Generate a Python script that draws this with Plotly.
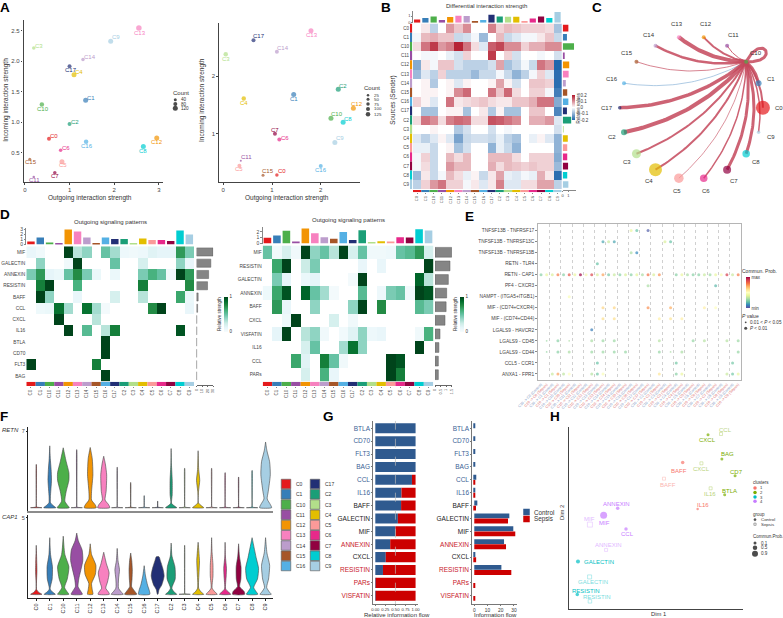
import numpy as np
import plotly.graph_objects as go

W, H = 783, 618
FONT = "Liberation Sans"
INK = "#333333"

clusters = ["C0", "C1", "C10", "C11", "C12", "C13", "C14", "C15", "C16", "C17",
            "C2", "C3", "C4", "C5", "C6", "C7", "C8", "C9"]
colors = ["#E41A1C", "#377EB8", "#4DAF4A", "#984EA3", "#F29403", "#F781BF", "#BC9DCC", "#A65628", "#54B0E4",
          "#222F75", "#1B9E77", "#B2DF8A", "#E3BE00", "#FB9A99", "#E7298A", "#910241", "#00CDD1", "#A6CEE3"]

# panel A, same cluster order as above
a1_out = [0.54, 1.36, 0.38, 0.20, 2.95, 2.55, 1.30, 0.11, 1.37, 1.00, 1.00, 0.20, 1.10, 0.83, 0.80, 0.67, 2.65, 1.92]
a1_in = [0.73, 1.36, 1.29, 0.10, 0.74, 2.55, 2.03, 0.39, 0.68, 1.92, 0.97, 2.22, 1.78, 0.35, 0.54, 0.17, 0.60, 2.33]
a1_size = [4, 5, 4.5, 2.5, 5, 5.5, 3.5, 3, 4.5, 4, 4, 3.5, 5, 5, 3.5, 3.5, 5, 5]
a1_dx = [5, 5.3, 1, 0.7, 0.7, 0.7, 7, 1.3, 1, 1, 5.7, 5, 5, 1, 5, 0.3, 0, 5]
a1_dy = [-2.3, -2.3, 4, 3, 4.3, 4.7, -2.3, 2.7, 4, 4, -2.3, -2.3, -2.7, 3.3, -2.3, 3.7, 4.7, -4.3]

a2_out = [1.10, 1.445, 2.21, 0.36, 2.67, 1.80, 1.10, 0.815, 2.00, 0.62, 2.36, 0.05, 0.42, 0.33, 1.15, 1.06, 2.46, 2.29]
a2_in = [0.285, 1.68, 1.27, 0.53, 1.44, 2.785, 2.42, 0.28, 0.44, 2.62, 1.77, 2.38, 1.61, 0.445, 0.90, 1.00, 1.20, 0.85]
a2_size = [3.5, 5, 5, 2, 5, 5, 4, 3, 4, 4, 5, 4.5, 4.5, 4, 4, 4, 5, 5]
a2_dx = [5, 0, 5.7, 5.7, 4, 0.7, 6, 5.3, 0.7, 5.7, 4.7, 0, 0, 0, 5.7, 0, 5, 4.7]
a2_dy = [-4, 4.7, -4, -4, -4.7, 4, -3.7, -4, 3.7, -4.3, -3.3, 4.7, 4, 3.3, -1.7, -4, -3.3, -4]

# panel B
b_matrix = [
    [0, .02, -.06, 0, .09, .05, .10, 0, 0, .11, .04, .06, .05, .04, .04, .04, .03, -.08],
    [-.01, .06, .07, .05, .05, -.05, -.04, -.01, -.09, 0, .06, -.05, -.03, -.01, -.01, .02, .05, -.05],
    [.03, .12, .17, .09, .11, .19, .12, .03, -.03, .14, .16, .10, .10, .04, .07, .07, .10, .10],
    [0, -.01, -.01, 0, -.02, -.04, .04, 0, 0, .17, 0, .04, -.04, 0, 0, -.01, 0, -.04],
    [-.11, .02, -.01, .05, .05, -.04, -.06, -.06, -.06, -.04, .08, -.08, -.05, -.01, -.05, .12, .09, -.20],
    [-.09, -.03, -.06, .04, -.06, -.06, -.06, -.09, -.05, -.05, -.01, -.05, -.10, -.06, -.01, .04, -.03, -.19],
    [0, .01, -.07, 0, .01, -.03, .01, 0, 0, .01, .08, .01, -.04, 0, .05, .05, .04, -.19],
    [0, .01, .01, 0, .01, .10, .13, 0, 0, .12, .05, .13, .03, 0, .04, .04, -.01, -.17],
    [.04, .01, -.03, 0, .12, .02, .03, .04, .05, .03, .02, .02, .05, .05, .07, .12, .12, -.11],
    [0, -.08, -.08, 0, .01, .01, -.08, 0, .02, -.07, .01, -.08, -.08, 0, .05, .05, 0, -.16],
    [.03, .12, .10, .03, .11, .13, .12, .03, .03, .15, .14, .12, .10, 0, .07, .07, .09, -.03],
    [0, 0, .01, 0, 0, -.07, -.04, 0, 0, -.04, 0, -.01, 0, 0, 0, 0, 0, -.04],
    [-.03, -.06, -.03, .01, -.03, -.12, -.05, -.04, -.04, -.05, -.02, -.06, -.08, 0, -.02, .01, -.03, -.10],
    [-.02, -.02, -.05, 0, .01, -.08, -.04, 0, 0, -.10, -.02, -.05, -.10, 0, 0, 0, 0, -.10],
    [-.01, .04, -.05, 0, .06, .03, .06, 0, 0, .06, .06, .06, .03, 0, .04, .04, .04, -.11],
    [-.01, .03, -.05, 0, .09, .06, .06, 0, 0, .07, .03, .06, .05, .04, .05, .04, .04, -.09],
    [-.09, .02, -.05, -.01, .06, .03, -.02, .01, -.05, .02, .08, -.02, -.03, -.01, -.02, .07, .02, -.19],
    [-.06, .04, .09, .12, .04, .04, -.01, .02, -.03, .02, .11, -.03, -.03, .03, .03, .08, .08, -.06],
]
b_top = [.5, .7, .95, .4, .85, 1.05, 1.0, .25, .4, 1.2, .95, .9, .9, .25, .65, .95, .7, 1.6]
b_right = [1.0, .75, 2.0, .35, 1.15, 1.05, .55, .8, 1.0, .75, 1.5, .1, .9, .8, .8, .95, .8, 1.0]

# panel C, edge widths and node sizes from the C10 hub
c_nodes = ["C10", "C11", "C12", "C13", "C14", "C15", "C16", "C17", "C2", "C3", "C4", "C5", "C6", "C7", "C8", "C9", "C0", "C1"]
c_edge = [0, 1.0, 2.0, 4.0, 2.5, 0.8, 0.7, 3.5, 4.0, 2.0, 2.0, 0.7, 1.5, 3.0, 3.0, 1.5, 2.0, 3.0]
c_size = [4, 4, 4, 4, 4, 4, 4, 3.5, 6, 9, 13, 9.5, 7.5, 8, 7.5, 3.5, 14, 6]

# panel D
d1_rows = ["MIF", "GALECTIN", "ANNEXIN", "RESISTIN", "BAFF", "CCL", "CXCL", "IL16", "BTLA", "CD70", "FLT3", "BAG"]
d1_matrix = [
    [.1, .05, 0, 0, 1, .3, .4, 0, .5, .35, .07, .05, .07, .15, .12, .12, .7, .45],
    [0, .4, 0, 0, .05, 1, 0, 0, 0, .5, 0, 0, .2, 0, 0, 0, .4, .1],
    [.45, .7, .12, .08, .5, .75, .45, .08, 0, .08, 0, 0, .45, .6, .5, .05, 1, .7],
    [0, .8, 1, 0, 0, .6, 0, 0, 0, 0, 0, 0, .8, 0, 0, 0, 0, .75],
    [0, 1, .4, 0, 0, .1, 0, 0, 0, .2, 0, 0, .3, 0, 0, 0, .65, .08],
    [0, .06, .08, .85, .35, 0, .85, .35, .03, 0, 0, 0, 0, .75, 1, 0, 0, .1],
    [0, 0, 0, 1, 0, 0, 0, .3, 0, 0, 0, 0, 0, 0, 0, 0, 0, 0],
    [0, 0, 0, 0, 1, 0, .55, 0, .3, .8, 0, 0, 0, 0, 0, 0, .95, 0],
    [0, 0, 0, 0, 0, 0, 0, 0, 1, 0, 0, 0, 0, 0, 0, 0, 0, 0],
    [0, 0, 0, 0, 0, 0, 0, 0, 1, 0, 0, 0, 0, 0, 0, 0, 0, 0],
    [1, 0, 0, 0, 0, 0, 0, .8, 0, 0, 0, 0, 0, 0, 0, 0, 0, 0],
    [0, 0, 0, 0, 0, 0, 0, 0, 1, 0, 0, 0, 0, 0, 0, 0, 0, 0],
]
d1_top = [.6, 1.4, .4, .25, 3.0, 2.6, 1.4, .15, 1.4, 1.1, 1.1, .2, 1.2, .9, .9, .7, 2.8, 2.0]
d1_right = [30, 26, 22, 20, 3, 2, .5, .5, .3, .3, .3, .3]

d2_rows = ["MIF", "RESISTIN", "GALECTIN", "ANNEXIN", "BAFF", "CXCL", "VISFATIN", "IL16", "CCL", "PARs"]
d2_matrix = [
    [.5, .05, .2, .05, 1, .4, .5, .3, 1, .2, .5, .05, .05, .07, .5, .55, .7, .2],
    [0, .65, 1, 0, .25, .45, 0, 0, 0, 0, .1, 0, .1, 0, 0, 0, 0, 1],
    [0, .45, .12, 0, .08, .12, 0, 0, 0, .03, 1, 0, 0, 0, 0, 0, .9, .3],
    [.06, .65, .95, 0, .9, .5, .35, .03, 0, 0, .55, 0, .07, .45, .5, .05, 1, .95],
    [0, .7, .1, 0, 0, .4, 0, 0, 0, .4, 1, 0, .75, 0, 0, 0, .55, .45],
    [0, 0, .06, 1, 0, 0, 0, .2, 0, .05, 0, 0, 0, 0, 0, 0, 0, 0],
    [0, .12, 1, 0, .3, .4, .05, 0, .04, .15, .4, .07, .1, 0, 0, 0, .05, .6],
    [0, 0, 0, 0, .2, .5, 0, 0, .35, .85, .4, 0, 0, 0, 0, 0, 1, 0],
    [0, 0, 0, .65, .15, 0, .8, .5, .05, 0, 0, 0, 0, 1, .95, 0, 0, 0],
    [0, 0, 0, 0, .2, 0, .6, .1, 0, 0, 0, 0, 0, 1, .8, 0, 0, 0],
]
d2_top = [1.0, 1.4, 2.2, .35, 2.6, 1.75, 1.1, .8, 2.0, .6, 2.3, .1, .4, .35, 1.1, 1.05, 2.45, 2.25]
d2_right = [1.5, 1.35, 1.2, 1.05, 1.0, .9, .45, .35, .3, .3]

# panel E
e_pairs = ["TNFSF13B - TNFRSF17", "TNFSF13B - TNFRSF13C", "TNFSF13B - TNFRSF13B", "RETN - TLR4", "RETN - CAP1",
           "PF4 - CXCR3", "NAMPT - (ITGA5+ITGB1)", "MIF - (CD74+CXCR4)", "MIF - (CD74+CD44)", "LGALS9 - HAVCR2",
           "LGALS9 - CD45", "LGALS9 - CD44", "CCL5 - CCR1", "ANXA1 - FPR1"]
e_cols = [
    [16, 17, 19],
    [11, 12, 13, 22, 23],
    [16, 17],
    [10],
    [0, 1, 2, 3, 4, 5, 6, 7, 8, 9, 10, 11, 12, 13, 14, 15, 16, 17, 18, 19, 20, 21,
     24, 25, 26, 27, 28, 29, 30, 31, 32, 33, 34, 35],
    [19, 31],
    [5],
    [11, 13, 19, 23, 29, 31],
    [11, 13, 21, 23, 25],
    [9],
    [1, 3, 5, 9, 11, 13, 21, 27, 29, 33, 35],
    [1, 3, 5, 9, 11, 13, 15, 21, 23, 25, 35],
    [10, 24, 34],
    [2, 3, 4, 5, 9, 10, 11, 21, 24, 25, 33, 34, 35],
]
e_vals = [
    [.42, .2, .03],
    [.15, .35, .15, .38, .2],
    [.3, .1],
    [.2],
    [.25, .42, .38, .78, .25, .85, .42, 1.0, .45, .88, .38, .72, .22, .35, .25, .38, .25, .4, .3, .8, .38, .75,
     .25, .42, .3, .25, .25, .35, .28, .42, .48, .9, .35, .78],
    [.3, .18],
    [.48],
    [.62, .62, .75, .7, .55, .5],
    [.6, .6, .55, .58, .55],
    [.08],
    [.28, .25, .3, .3, .28, .28, .32, .27, .32, .32, .28],
    [.27, .25, .3, .28, .28, .27, .27, .27, .3, .3, .27],
    [.2, .22, .22],
    [.35, .72, .33, .5, .32, .22, .48, .58, .25, .42, .35, .22, .42],
]
# pvalue class: 1 is the small dot (0.01 < P < 0.05)
e_small = [[], [], [], [], [], [], [], [], [], [], [1, 5], [1, 23], [], []]

# panel F, violin outlines: heights and half widths
retn_h = [
    [0, .06, .15, 3.95], [0, .2, .45, 1, 2.5, 3.5, 4.5, 5.65], [0, .25, .6, 1.5, 2.5, 3.2, 4.2, 5.47],
    [0, .05, .15, 5.3], [0, .3, .7, 1.5, 3.0, 4.5, 5.5], [0, .3, .7, 1.5, 3, 4, 4.7],
    [0, .05, .15, 3.7], [0, .05, .15, 2.3], [0, .05, .15, 1.1], [0, .05, .15, .6],
    [0, .2, .4, 1.2, 2.5, 4, 5.4], [0, .05, .15, 3.6], [0, .2, .45, 1.5, 2.5, 3.5, 5.2],
    [0, .05, .15, 3.6], [0, .05, .15, 3.2], [0, .05, .15, 2.8], [0, .05, .15, 3.4],
    [0, .3, .8, 1.5, 3.0, 4.2, 5.2, 6.0],
]
retn_w = [
    [.42, .03, .012, .006], [.45, .25, .06, .05, .13, .1, .04, 0], [.45, .3, .12, .22, .42, .42, .22, 0],
    [.42, .03, .012, .006], [.45, .35, .1, .1, .2, .15, 0], [.45, .35, .1, .18, .22, .12, 0],
    [.42, .03, .012, .006], [.42, .03, .012, .006], [.42, .03, .012, .006], [.42, .03, .012, .006],
    [.42, .2, .03, .08, .08, .02, 0], [.42, .03, .012, .006], [.42, .22, .02, .03, .12, .04, 0],
    [.42, .03, .012, .006], [.42, .03, .012, .006], [.42, .03, .012, .006], [.42, .03, .012, .006],
    [.45, .35, .12, .2, .35, .3, .1, 0],
]
cap1_h = [
    [0, .12, .3, 1.5, 2.0, 3.2], [0, .15, .35, 1, 1.8, 2.6, 3.7], [0, .15, .45, 1, 1.8, 2.6, 3.8],
    [0, .2, .5, 1, 2.2, 2.9, 3.5, 4.0], [0, .3, .7, 1.3, 1.9, 2.6, 3.3], [0, .15, .4, .8, 1.4, 2.0, 2.75],
    [0, .15, .4, 1, 1.6, 2.2, 3.0], [0, .2, .5, 1, 1.6, 2.2, 2.7], [0, .25, .6, 1.2, 1.87],
    [0, .3, .6, 1.2, 1.7, 2.2, 2.45], [0, .15, .4, 1, 1.8, 2.5, 3.35], [0, .04, .1, 3.2],
    [0, .15, .4, 1.5, 2.2, 3.4], [0, .15, .4, 1.2, 1.9, 2.8, 3.7], [0, .15, .35, 1.2, 1.7, 2.5, 3.4],
    [0, .2, .5, 1, 1.8, 2.5, 3.3], [0, .2, .45, 1, 1.7, 2.4, 3.7], [0, .15, .45, 1, 1.9, 2.7, 3.7],
]
cap1_w = [
    [.42, .2, .03, .05, .04, 0], [.42, .2, .03, .18, .2, .06, 0], [.42, .3, .1, .3, .42, .12, 0],
    [.42, .3, .1, .15, .45, .4, .12, 0], [.2, .15, .1, .38, .42, .1, 0], [.42, .35, .15, .28, .4, .2, 0],
    [.45, .3, .1, .1, .17, .06, 0], [.45, .3, .07, .1, .12, .08, 0], [.42, .38, .25, .1, 0],
    [.02, .1, .3, .48, .38, .2, .1], [.42, .22, .05, .3, .28, .06, 0], [.42, .02, .01, .003],
    [.42, .22, .04, .07, .1, 0], [.42, .25, .04, .1, .1, .03, 0], [.42, .25, .04, .08, .1, .02, 0],
    [.45, .4, .08, .17, .18, .06, 0], [.42, .28, .12, .4, .48, .3, 0], [.42, .28, .08, .22, .3, .1, 0],
]

# panel G
g_paths = ["BTLA", "CD70", "FLT3", "BAG", "CCL", "IL16", "BAFF", "GALECTIN", "MIF", "ANNEXIN", "CXCL", "RESISTIN", "PARs", "VISFATIN"]
g_label_colors = ["#3B5F96"] * 6 + ["#222222"] * 3 + ["#C8202A", "#222222", "#C8202A", "#C8202A", "#C8202A"]
g_share = [1, 1, 1, 1, .91, .65, .64, .56, .5, .37, .26, .19, .01, .01]
g_control = [.3, .3, .3, .3, 1.5, .7, 2.3, 26.5, 29.5, 22.5, .8, 20.5, 0, 0]
g_sepsis = [0, 0, 0, 0, .15, .4, 1.3, 25.5, 31, 24, 1.4, 28, .5, .7]

# panel H
h_control_names = ["CXCL", "BAG", "CD7", "BTLA", "BAFF", "IL16", "ANNEXIN", "MIF", "CCL", "GALECTIN", "RESISTIN"]
h_control_x = [80, 88, 95.6, 89.6, 65.4, 74, 27.9, 19.8, 32.7, 5, 4.6]
h_control_y = [95.6, 82.3, 73.1, 62.7, 80.3, 54.8, 55.2, 51.4, 43.9, 26, 7.9]
h_control_cluster = [2, 2, 2, 2, 1, 1, 4, 4, 4, 3, 3]
h_control_size = [3, 3, 3, 3, 3.5, 2.5, 3.5, 7, 3.5, 4, 3.5]
h_control_dx = [-1, 5.7, 1.3, 5.3, -3.3, 5.3, -.7, 1.3, 1, 21, 8.7]
h_control_dy = [5.3, -4.7, -4, -4, 8, -3.7, -4.7, 8, 5, 0, -4]
h_sepsis_names = ["CCL", "CXCL", "BAFF", "IL16", "MIF", "ANNEXIN", "GALECTIN", "RESISTIN"]
h_sepsis_x = [87.5, 76.2, 54.6, 81.5, 11.9, 21.2, 11.7, 11.9]
h_sepsis_y = [96, 79.9, 71.5, 66.2, 46.3, 32.4, 17.6, 4.2]
h_sepsis_cluster = [2, 2, 1, 2, 4, 4, 3, 3]
h_sepsis_size = [3, 3, 3, 3, 5, 3, 4, 3.5]
h_sepsis_dx = [4.7, 0, 4.3, -1, 0, 2, 3.7, 7.3]
h_sepsis_dy = [-3.7, 6, 6, 6, -6, -5, 4.7, -4.3]
h_colors = {1: "#F8766D", 2: "#7CAE00", 3: "#00BFC4", 4: "#C77CFF"}

fig = go.Figure()
axis_layout = {}
notes = []
n_axes = 1


def new_axes(box, xrange, yrange, xopts=None, yopts=None):
    # box is x0, x1, y0, y1 in page pixels, y going down
    global n_axes
    n_axes += 1
    base = dict(showgrid=False, zeroline=False, showticklabels=False, ticks="", showline=False)
    x0, x1, y0, y1 = box
    axis_layout[f"xaxis{n_axes}"] = dict(base, domain=[x0 / W, x1 / W], range=xrange, anchor=f"y{n_axes}", **(xopts or {}))
    axis_layout[f"yaxis{n_axes}"] = dict(base, domain=[1 - y1 / H, 1 - y0 / H], range=yrange, anchor=f"x{n_axes}", **(yopts or {}))
    return dict(xaxis=f"x{n_axes}", yaxis=f"y{n_axes}")


def text(x, y, s, size=6, color=INK, anchor="center", angle=0, weight=None):
    notes.append(dict(x=x / W, y=1 - y / H, xref="paper", yref="paper", text=s, showarrow=False, textangle=angle,
                      xanchor=anchor, yanchor="middle", borderpad=0,
                      font=dict(size=size, color=color, family=FONT, weight=weight)))


def ticks_font(size, color=INK):
    return dict(size=size, color=color, family=FONT)


def scatter_panel(box, xr, yr, xs, ys, sizes, dxs, dys, xticks, yticks, yfmt):
    line = dict(showline=True, linecolor="#444444", linewidth=1.2, showticklabels=True, ticks="outside", ticklen=1.5,
                tickcolor="#444444", tickfont=ticks_font(6, "#444444"))
    ax = new_axes(box, xr, yr, dict(line, tickvals=xticks), dict(line, tickvals=yticks, tickformat=yfmt))
    fig.add_trace(go.Scatter(x=xs, y=ys, mode="markers", marker=dict(size=sizes, color=colors, line_width=0), **ax))
    for name, c, x, y, dx, dy in zip(clusters, colors, xs, ys, dxs, dys):
        notes.append(dict(x=x, y=y, xref=ax["xaxis"], yref=ax["yaxis"], text=name, showarrow=False, xshift=dx, yshift=-dy,
                          font=dict(size=6, color=c, family=FONT)))


def strip(box, vertical=False, labels=False):
    if vertical:
        ax = new_axes(box, [0, 1], [17.5, -.5])
        fig.add_trace(go.Bar(x=[1] * 18, y=list(range(18)), orientation="h", width=1, marker=dict(color=colors, line_width=0), **ax))
    else:
        xopts = {}
        if labels:
            xopts = dict(showticklabels=True, tickvals=list(range(18)), ticktext=clusters, tickangle=-90, ticks="outside",
                         ticklen=1, tickcolor="#888888", tickfont=ticks_font(labels, "#555555"))
        ax = new_axes(box, [-.5, 17.5], [0, 1], xopts)
        fig.add_trace(go.Bar(x=list(range(18)), y=[1] * 18, width=1, marker=dict(color=colors, line_width=0), **ax))


def pattern_panel(left, right, top, rows, matrix, top_vals, top_box, top_range, top_ticks, right_vals, right_box, right_range, right_ticks, cbar_x):
    n = len(rows)
    ax = new_axes((left, right, top, 381.5), [-.5, 17.5], [n - .5, -.5], None,
                  dict(showticklabels=True, tickvals=list(range(n)), ticktext=rows, tickfont=ticks_font(4.8, "#444444")))
    z = [[v if v > 0 else None for v in row] for row in matrix]
    fig.add_trace(go.Heatmap(z=z, x=list(range(18)), y=list(range(n)), colorscale="BuGn", zmin=0, zmax=1, hoverongaps=False,
                             colorbar=dict(x=cbar_x / W, y=1 - 296.7 / H, xanchor="left", yanchor="top", len=34.5, lenmode="pixels",
                                           thickness=3.5, thicknessmode="pixels", xpad=0, ypad=0, outlinewidth=0,
                                           tickvals=[0, 1], ticks="", tickfont=ticks_font(4.5)), **ax))
    strip((left, right, 381.8, 386), labels=4.5)
    ax = new_axes((left, right, top_box[0], top_box[1]), [-.5, 17.5], top_range, None,
                  dict(showline=True, linecolor="#888888", linewidth=.6, showticklabels=True, tickvals=top_ticks, ticks="outside", ticklen=1.5,
                       tickcolor="#888888", tickfont=ticks_font(5, "#444444")))
    fig.add_trace(go.Bar(x=list(range(18)), y=top_vals, width=.8, marker=dict(color=colors, line_width=0), **ax))
    ax = new_axes((right_box[0], right_box[1], top, 385), right_range, [n - .5 + (385 - 381.5) / ((381.5 - top) / n), -.5],
                  dict(showline=True, linecolor="#666666", linewidth=.6, showticklabels=True, tickvals=right_ticks, ticks="outside", ticklen=1.5,
                       tickcolor="#666666", tickangle=-90, tickfont=ticks_font(4, "#555555")))
    fig.add_trace(go.Bar(x=right_vals, y=list(range(n)), orientation="h", width=.72,
                         marker=dict(color="#858585", line=dict(color="#5a5a5a", width=.5)), **ax))


# A
scatter_panel((23.5, 163, 20, 182), [-.03, 3.09], [.018, 2.68], a1_out, a1_in, a1_size, a1_dx, a1_dy, [0, 1, 2, 3], [.5, 1, 1.5, 2, 2.5], ".1f")
scatter_panel((219, 360, 23, 182), [-.088, 2.806], [.163, 2.92], a2_out, a2_in, a2_size, a2_dx, a2_dy, [0, 1, 2], [1, 2], "d")
text(90, 197.5, "Outgoing interaction strength", 6.5)
text(287, 197.5, "Outgoing interaction strength", 6.5)
text(5.7, 100, "Incoming interaction strength", 6.5, angle=-90)
text(202, 100, "Incoming interaction strength", 6.5, angle=-90)

# B
ax = new_axes((413, 561.7, 23.5, 189), [-.5, 17.5], [17.5, -.5], None,
              dict(showticklabels=True, tickvals=list(range(18)), ticktext=clusters, tickfont=ticks_font(4.5, "#444444"), ticklabelstandoff=3))
fig.add_trace(go.Heatmap(z=b_matrix, x=list(range(18)), y=list(range(18)), zmin=-.2, zmax=.2,
                         colorscale=[[0, "#2166AC"], [.5, "#FFFFFF"], [1, "#B2182B"]],
                         colorbar=dict(x=572 / W, y=1 - 95 / H, xanchor="left", yanchor="top", len=25, lenmode="pixels", thickness=2.5,
                                       thicknessmode="pixels", xpad=0, ypad=0, outlinewidth=0, tickvals=[-.2, -.1, 0, .1, .2],
                                       ticktext=["-0.2", "-0.1", "0", "0.1", "0.2"], ticks="outside", ticklen=5, tickcolor="rgba(0,0,0,0)",
                                       tickfont=ticks_font(4.5)), **ax))
strip((410, 412.3, 23.5, 189), vertical=True)
strip((413, 561.7, 190, 192.3), labels=4.2)
ax = new_axes((413, 561.7, 11, 22.7), [-.5, 17.5], [0, 1.77], None,
              dict(showticklabels=True, tickvals=[0, 1], ticks="outside", ticklen=1, tickcolor="#888888", showline=True, linecolor="#888888",
                   linewidth=.5, tickfont=ticks_font(4, "#444444")))
fig.add_trace(go.Bar(x=list(range(18)), y=b_top, width=.75, marker=dict(color=colors, line_width=0), **ax))
ax = new_axes((562.7, 576, 23.5, 190), [0, 2.35], [17.6, -.5],
              dict(showticklabels=True, tickvals=[0, 1], ticks="outside", ticklen=1, tickcolor="#888888", showline=True, linecolor="#888888",
                   linewidth=.5, tickfont=ticks_font(4, "#444444")))
fig.add_trace(go.Bar(x=b_right, y=list(range(18)), orientation="h", width=.72, marker=dict(color=colors, line_width=0), **ax))
text(487, 6.3, "Differential interaction strength", 6)
text(392.7, 100, "Sources (Sender)", 6.3, angle=-90)
text(577.5, 108, "Relative values", 4.5, angle=-90)

# C
c_cx, c_cy, c_r = 691.3, 107.7, 71.6
ax = new_axes((600, 783, 8, 195), [(600 - c_cx) / c_r, (783 - c_cx) / c_r], [(c_cy - 195) / c_r, (c_cy - 8) / c_r])
c_angle = np.radians(40 + 20 * np.arange(18))
c_x, c_y = np.cos(c_angle), np.sin(c_angle)
for i in range(1, 18):
    dx, dy = c_x[i] - c_x[0], c_y[i] - c_y[0]
    mx, my = (c_x[i] + c_x[0]) / 2 - .17 * dy, (c_y[i] + c_y[0]) / 2 + .17 * dx
    t = np.linspace(0, 1, 40)
    fig.add_trace(go.Scatter(x=(1 - t) ** 2 * c_x[0] + 2 * t * (1 - t) * mx + t ** 2 * c_x[i],
                             y=(1 - t) ** 2 * c_y[0] + 2 * t * (1 - t) * my + t ** 2 * c_y[i], mode="lines",
                             line=dict(color="#8DB5D8" if c_nodes[i] == "C16" else "rgba(196,72,92,0.85)", width=c_edge[i]), **ax))
t = np.linspace(0, 1, 40)
p1, p2 = (1.0, 1.08), (1.26, .62)
fig.add_trace(go.Scatter(x=(1 - t) ** 3 * c_x[0] + 3 * t * (1 - t) ** 2 * p1[0] + 3 * t ** 2 * (1 - t) * p2[0] + t ** 3 * c_x[0],
                         y=(1 - t) ** 3 * c_y[0] + 3 * t * (1 - t) ** 2 * p1[1] + 3 * t ** 2 * (1 - t) * p2[1] + t ** 3 * c_y[0],
                         mode="lines", line=dict(color="rgba(196,72,92,0.85)", width=3), **ax))
node_colors = [colors[clusters.index(c)] for c in c_nodes]
fig.add_trace(go.Scatter(x=c_x, y=c_y, mode="markers", marker=dict(size=c_size, color=node_colors, line_width=0), **ax))
for name, x, y in zip(c_nodes, c_x, c_y):
    r = 1.22 if name == "C0" else 1.18
    notes.append(dict(x=x * r, y=y * r, xref=ax["xaxis"], yref=ax["yaxis"], text=name, showarrow=False,
                      font=dict(size=6, color=INK, family=FONT)))

# D
pattern_panel(26.3, 194, 246.3, d1_rows, d1_matrix, d1_top, (228, 244.5), [0, 3.3], [0, 1, 2, 3], d1_right, (196.5, 213.3), [0, 30.5], [0, 10, 20, 30], 224)
pattern_panel(262.7, 433.3, 245.5, d2_rows, d2_matrix, d2_top, (227, 243.5), [0, 2.85], [0, 1, 2], d2_right, (435, 452), [0, 1.53], [0, .5, 1, 1.5], 460)
text(110.5, 221.5, "Outgoing signaling patterns", 6)
text(348, 220.5, "Outgoing signaling patterns", 6)
text(219, 314, "Relative strength", 4.5, angle=-90)
text(455, 314, "Relative strength", 4.5, angle=-90)

# E
e_ticks = [f'<span style="color:{"#7F98C4" if i % 2 == 0 else "#DC6A6A"}">C10 -&gt; {c} ({"Control" if i % 2 == 0 else "Sepsis"})</span>'
           for c in clusters for i in range(2)]
ax = new_axes((537.7, 741, 224, 380), [-.59, 35.5], [13.55, -.6],
              dict(showticklabels=True, tickvals=list(range(36)), ticktext=e_ticks, tickangle=-45, tickfont=ticks_font(3.7),
                   minor=dict(tickvals=[1.5 + 2 * i for i in range(17)], showgrid=True, griddash="dot", gridcolor="#d0d0d0", gridwidth=.6),
                   showline=True, mirror=True, linecolor="#b5b5b5", linewidth=1),
              dict(showticklabels=True, tickvals=list(range(14)), ticktext=e_pairs, tickfont=ticks_font(4.8, "#444444"), ticks="outside", ticklen=1.5,
                   tickcolor="#888888", showline=True, mirror=True, linecolor="#b5b5b5", linewidth=1))
for row, (cols, vals, small) in enumerate(zip(e_cols, e_vals, e_small)):
    sizes = [1.8 if c in small else 3 for c in cols]
    fig.add_trace(go.Scatter(x=cols, y=[row] * len(cols), mode="markers",
                             marker=dict(size=sizes, color=vals, cmin=0, cmax=1, colorscale="Spectral_r", line_width=0,
                                         showscale=row == 0,
                                         colorbar=dict(x=745.7 / W, y=1 - 277 / H, xanchor="left", yanchor="top", len=30.5, lenmode="pixels",
                                                       thickness=3.5, thicknessmode="pixels", xpad=0, ypad=0, outlinewidth=0, tickvals=[0, 1],
                                                       ticktext=["min", "max"], ticks="", tickfont=ticks_font(4.5))), **ax))
text(741, 271, "Commun. Prob.", 5, anchor="left")
text(741, 316, "<i>P</i> value", 5, anchor="left")
text(749, 322.3, "0.01 &lt; <i>P</i> &lt; 0.05", 4.6, anchor="left")
text(749, 328.3, "<i>P</i> &lt; 0.01", 4.6, anchor="left")

# F
def violin_panel(box, yr, tick, heights, widths, xopts):
    ax = new_axes(box, [-.59, 17.55], yr, xopts,
                  dict(showline=True, linecolor="#222222", linewidth=1, showticklabels=True, tickvals=[tick], ticks="outside", ticklen=1.5,
                       tickcolor="#222222", tickfont=ticks_font(5.5, "#444444")))
    for i, (hs, ws) in enumerate(zip(heights, widths)):
        hs, ws = np.array(hs), np.array(ws)
        fig.add_trace(go.Scatter(x=np.r_[i - ws, (i + ws)[::-1], i - ws[0]], y=np.r_[hs, hs[::-1], hs[0]], mode="lines", fill="toself",
                                 fillcolor=colors[i], line=dict(color="#444444", width=.6, shape="spline", smoothing=.6), **ax))


violin_panel((28.3, 273, 427.3, 511), [(507.7 - 511) / 10.95, (507.7 - 427.3) / 10.95], 7, retn_h, retn_w,
             dict(showline=True, linecolor="#8c8c8c", linewidth=1.6))
violin_panel((28.3, 273, 515, 598.3), [(594.3 - 598.3) / 15.3, (594.3 - 515) / 15.3], 5, cap1_h, cap1_w,
             dict(showline=True, linecolor="#222222", linewidth=1, showticklabels=True, tickvals=list(range(18)), ticktext=clusters, tickangle=-90,
                  ticks="outside", ticklen=2, tickcolor="#222222", tickfont=ticks_font(5.5, "#333333")))
text(1, 429.5, "<i>RETN</i>", 6, anchor="left")
text(1, 516.7, "<i>CAP1</i>", 6, anchor="left")

# G
g_row_ticks = [f'<span style="color:{c}">{p}</span>' for p, c in zip(g_paths, g_label_colors)]
g_y = list(range(14))
g_line = dict(showline=True, linecolor="#777777", linewidth=1, showticklabels=True, ticks="outside", ticklen=1, tickcolor="#777777",
              tickfont=ticks_font(4.8, "#333333"))
g_yaxis = dict(g_line, tickvals=g_y, ticktext=g_row_ticks, tickfont=ticks_font(6.5))
ax = new_axes((373.3, 418, 420.7, 604), [-.05, 1.06], [13.64, -.59],
              dict(g_line, tickvals=[0, .25, .5, .75, 1], tickformat=".2f", tickangle=0, tickfont=ticks_font(4.2, "#333333")), g_yaxis)
fig.add_trace(go.Bar(x=g_share, y=g_y, orientation="h", width=.78, marker=dict(color="#2F5A8F", line_width=0), **ax))
fig.add_trace(go.Bar(x=[1 - s for s in g_share], y=g_y, base=g_share, orientation="h", width=.78, marker=dict(color="#CC0000", line_width=0), **ax))
fig.add_trace(go.Scatter(x=[.5, .5], y=[-.59, 13.64], mode="lines", line=dict(color="#b9b9b9", width=.7, dash="dash"), **ax))
ax = new_axes((472.3, 517, 420.7, 604), [-1.5, 32.3], [13.64, -.59], dict(g_line, tickvals=[0, 10, 20, 30], tickangle=0), g_yaxis)
fig.add_trace(go.Bar(x=g_control, y=g_y, orientation="h", width=.38, offset=-.39, marker=dict(color="#2F5A8F", line_width=0), **ax))
fig.add_trace(go.Bar(x=g_sepsis, y=g_y, orientation="h", width=.38, offset=.01, marker=dict(color="#CC0000", line_width=0), **ax))
text(396.7, 614.8, "Relative information flow", 6)
text(495, 614.8, "Information flow", 6)
text(533, 512, "Control", 6.3, anchor="left")
text(533, 519, "Sepsis", 6.3, anchor="left")

# H
ax = new_axes((569.3, 742.7, 426.7, 609), [0, 100], [0, 100],
              dict(showline=True, linecolor="#444444", linewidth=1), dict(showline=True, linecolor="#444444", linewidth=1))
fig.add_trace(go.Scatter(x=h_sepsis_x, y=h_sepsis_y, mode="markers", opacity=.55,
                         marker=dict(symbol="square-open", size=h_sepsis_size, color=[h_colors[c] for c in h_sepsis_cluster], line_width=.7), **ax))
fig.add_trace(go.Scatter(x=h_control_x, y=h_control_y, mode="markers",
                         marker=dict(size=h_control_size, color=[h_colors[c] for c in h_control_cluster], line_width=0), **ax))
for names, xs, ys, cl, dxs, dys, alpha in [(h_control_names, h_control_x, h_control_y, h_control_cluster, h_control_dx, h_control_dy, 1),
                                           (h_sepsis_names, h_sepsis_x, h_sepsis_y, h_sepsis_cluster, h_sepsis_dx, h_sepsis_dy, .55)]:
    for name, x, y, c, dx, dy in zip(names, xs, ys, cl, dxs, dys):
        notes.append(dict(x=x, y=y, xref=ax["xaxis"], yref=ax["yaxis"], text=name, showarrow=False, xshift=dx, yshift=-dy, opacity=alpha,
                          font=dict(size=6, color=h_colors[c], family=FONT)))
text(658.7, 614, "Dim 1", 5.8)
text(562, 513, "Dim 2", 5.8, angle=-90)

# legends and other keys, on one axis that covers the whole page
page = new_axes((0, W, 0, H), [0, W], [H, 0])
fig.add_trace(go.Scatter(x=[175.3] * 3, y=[99.7, 104, 108.3], mode="markers", marker=dict(size=[3, 4, 5], color="black", line_width=0), **page))
fig.add_trace(go.Scatter(x=[368] * 5, y=[95.3, 99.3, 104, 109, 114.3], mode="markers", marker=dict(size=[2.5, 3, 3.5, 4, 4.5], color="black", line_width=0), **page))
text(172, 93, "Count", 6, anchor="left")
for y, s in zip([99.7, 104, 108.3], ["40", "80", "120"]):
    text(180, y, s, 4.6, anchor="left")
text(363, 88, "Count", 6, anchor="left")
for y, s in zip([95.3, 99.3, 104, 109, 114.3], ["25", "50", "75", "100", "125"]):
    text(373, y, s, 4.4, anchor="left")

# F legend swatches, two columns of nine
swatch_y = [484 + 10.25 * i for i in range(9)]
fig.add_trace(go.Scatter(x=[286] * 9, y=swatch_y, mode="markers", marker=dict(symbol="square", size=9.5, color=colors[:9], line=dict(color="#666666", width=.7)), **page))
fig.add_trace(go.Scatter(x=[315] * 9, y=swatch_y, mode="markers", marker=dict(symbol="square", size=9.5, color=colors[9:], line=dict(color="#666666", width=.7)), **page))
for i, y in enumerate(swatch_y):
    text(294.5, y, clusters[i], 5, anchor="left")
    text(324, y, clusters[i + 9], 5, anchor="left")

# G legend
fig.add_trace(go.Scatter(x=[526.5, 526.5], y=[512, 519], mode="markers", marker=dict(symbol="square", size=6.5, color=["#2F5A8F", "#CC0000"], line_width=0), **page))

# E legend dots
fig.add_trace(go.Scatter(x=[745.7, 745.7], y=[322.3, 328.3], mode="markers", marker=dict(size=[1.8, 3], color="black", line_width=0), **page))

# H legend
text(751.7, 482.7, "clusters", 4.5, anchor="left")
fig.add_trace(go.Scatter(x=[755] * 4, y=[488, 492.5, 497, 501.3], mode="markers", marker=dict(size=3.5, color=list(h_colors.values()), line_width=0), **page))
for y, s in zip([488, 492.5, 497, 501.3], ["1", "2", "3", "4"]):
    text(758.5, y, s, 4.2, anchor="left")
text(751.7, 514, "group", 4.5, anchor="left")
fig.add_trace(go.Scatter(x=[755, 755], y=[519.7, 524.2], mode="markers", marker=dict(symbol=["circle", "square-open"], size=2.2, color="#555555", line_width=.5), **page))
text(760, 519.7, "Control", 4.4, anchor="left")
text(760, 524.2, "Sepsis", 4.4, anchor="left")
text(751.7, 536.7, "Commun.Prob.", 4.5, anchor="left")
fig.add_trace(go.Scatter(x=[755] * 3, y=[543, 547.7, 553.7], mode="markers", marker=dict(size=[3, 4.5, 6], color="black", line_width=0), **page))
for y, s in zip([543, 547.7, 553.7], ["0.1", "0.5", "0.9"]):
    text(760, y, s, 4.6, anchor="left")

for letter, x, y in [("A", 5, 8), ("B", 386, 8), ("C", 596.5, 8), ("D", 5, 214), ("E", 469, 216), ("F", 4, 416), ("G", 328, 416), ("H", 555, 416)]:
    text(x, y, letter, 13.5, color="black", weight="bold")

fig.update_layout(width=W, height=H, margin=dict(l=0, r=0, t=0, b=0, autoexpand=False), paper_bgcolor="white", plot_bgcolor="rgba(0,0,0,0)",
                  showlegend=False, barmode="overlay", annotations=notes, font=dict(family=FONT), **axis_layout)
# the page has a default body margin that would push the figure off the window
fig.write_html("out.html", config={"displayModeBar": False}, post_script="document.body.style.margin='0';")
